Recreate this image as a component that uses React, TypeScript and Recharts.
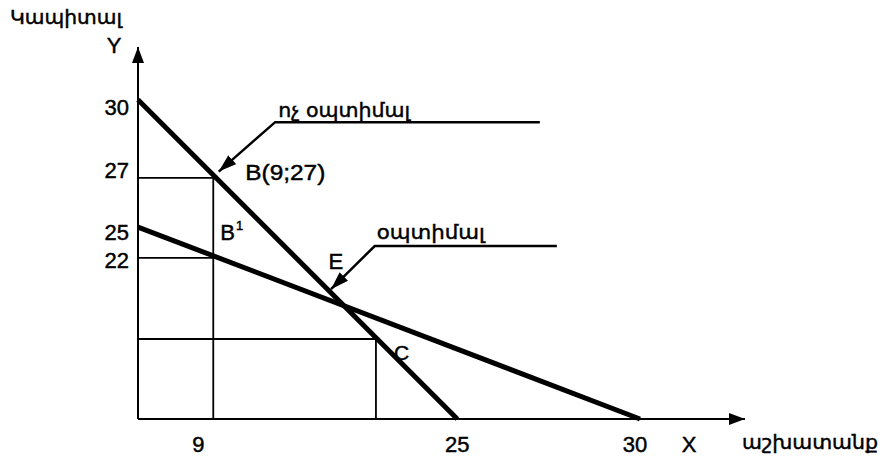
import React from "react";
import { LineChart, Line, XAxis, YAxis, ReferenceDot } from "recharts";

// schematic positions (0–100 on each axis) of the printed ticks
const xTickPos = [12.4, 52.6, 82.7];
const xTickLabels = ["9", "25", "30"];
const yTickPos = [85.8, 64.8, 51.6, 43.3];
const yTickLabels = ["30", "27", "25", "22"];

const [X9, X25, X30] = xTickPos;
const [Y30, Y27, Y25, Y22] = yTickPos;

// the two straight lines
const steepLine = [{ x: 0, y: Y30 }, { x: X25, y: 0 }];
const flatLine = [{ x: 0, y: Y25 }, { x: X30, y: 0 }];

// marked points
const pointB = { x: X9, y: Y27 };
const pointB1 = { x: X9, y: Y22 };
const pointE = { x: 34.0, y: 30.4 };
const pointC = { x: 39.2, y: 21.5 };

// thin guide lines
const guideB = [{ x: 0, y: Y27 }, pointB, { x: X9, y: 0 }];
const guideB1 = [{ x: 0, y: Y22 }, pointB1];
const guideC = [{ x: 0, y: pointC.y }, pointC, { x: pointC.x, y: 0 }];

// leader lines with arrows
const leaderNonOpt = [{ x: 66.2, y: 79.8 }, { x: 22.6, y: 79.8 }, { x: 13.3, y: 66.5 }];
const leaderOpt = [{ x: 69.0, y: 46.5 }, { x: 39.0, y: 46.5 }, { x: 31.8, y: 34.9 }];

const FONT = "Arial, 'Liberation Sans', 'DejaVu Sans', sans-serif";
const ARM = "'DejaVu Sans', sans-serif";
const BOLDEN = { stroke: "#000", strokeWidth: 0.45 };

const yNudge: Record<string, number> = { "30": 15, "27": 0, "25": 13, "22": 10 };
const xNudge: Record<string, number> = { "9": -15, "25": 0, "30": -5 };

function YTick(props: any) {
  const { x, y, payload } = props;
  const label = yTickLabels[yTickPos.indexOf(payload.value)];
  return (
    <text x={x - 1} y={y + yNudge[label]} textAnchor="end" fontSize={22} fontFamily={FONT} fill="#000" {...BOLDEN}>
      {label}
    </text>
  );
}

function XTick(props: any) {
  const { x, payload } = props;
  const label = xTickLabels[xTickPos.indexOf(payload.value)];
  return (
    <text x={x + xNudge[label]} y={452} textAnchor="middle" fontSize={22} fontFamily={FONT} fill="#000" {...BOLDEN}>
      {label}
    </text>
  );
}

function Ann(props: any) {
  const { viewBox, text, dx, dy, size = 22, width, arm, sup } = props;
  return (
    <text
      x={viewBox.x + dx}
      y={viewBox.y + dy}
      fontSize={size}
      fontFamily={arm ? ARM : FONT}
      fill="#000"
      {...BOLDEN}
      textLength={width}
      lengthAdjust={width ? "spacingAndGlyphs" : undefined}
    >
      {text}
      {sup ? (
        <tspan dx={1} dy={-10} fontSize={13}>
          {sup}
        </tspan>
      ) : null}
    </text>
  );
}

export default function App() {
  const thick = { stroke: "#000", strokeWidth: 5, dot: false, isAnimationActive: false, type: "linear" as const };
  const thin = { stroke: "#000", strokeWidth: 1.8, dot: false, isAnimationActive: false, type: "linear" as const };
  const lead = { stroke: "#000", strokeWidth: 2.5, dot: false, isAnimationActive: false, type: "linear" as const };

  return (
    <div style={{ position: "absolute", left: 0, top: 0, background: "#fff" }}>
      <LineChart width={880} height={456} margin={{ top: 47, right: 135, bottom: 36, left: 137 }}>
        <defs>
          <marker id="arrowHead" viewBox="0 0 18 12" refX="18" refY="6" markerWidth="18" markerHeight="12" markerUnits="userSpaceOnUse" orient="auto">
            <path d="M0,0 L18,6 L0,12 z" fill="#000" />
          </marker>
          <marker id="axisArrow" viewBox="0 0 16 12" refX="16" refY="6" markerWidth="16" markerHeight="12" markerUnits="userSpaceOnUse" orient="auto-start-reverse">
            <path d="M0,0 L16,6 L0,12 z" fill="#000" />
          </marker>
        </defs>
        <XAxis
          type="number"
          dataKey="x"
          domain={[0, 100]}
          ticks={xTickPos}
          height={1}
          tickLine={false}
          tick={<XTick />}
          axisLine={{ stroke: "#000", strokeWidth: 2, markerEnd: "url(#axisArrow)" }}
          label={{
            content: (p: any) => (
              <g>
                <text x={p.viewBox.x + p.viewBox.width - 56} y={452} textAnchor="middle" fontSize={22} fontFamily={FONT} {...BOLDEN}>X</text>
                <text x={p.viewBox.x + p.viewBox.width - 3} y={449} fontSize={20} fontFamily={ARM} textLength={136} lengthAdjust="spacingAndGlyphs" {...BOLDEN}>աշխատանք</text>
              </g>
            ),
          }}
        />
        <YAxis
          type="number"
          dataKey="y"
          domain={[0, 100]}
          ticks={yTickPos}
          width={1}
          tickLine={false}
          tick={<YTick />}
          axisLine={{ stroke: "#000", strokeWidth: 2, markerStart: "url(#axisArrow)" }}
          label={{
            content: (p: any) => (
              <g>
                <text x={p.viewBox.x + p.viewBox.width - 24} y={p.viewBox.y + 6} textAnchor="middle" fontSize={22} fontFamily={FONT} {...BOLDEN}>Y</text>
                <text x={10} y={24} fontSize={20} fontFamily={ARM} textLength={112} lengthAdjust="spacingAndGlyphs" {...BOLDEN}>Կապիտալ</text>
              </g>
            ),
          }}
        />
        <Line data={guideB} dataKey="y" {...thin} />
        <Line data={guideB1} dataKey="y" {...thin} />
        <Line data={guideC} dataKey="y" {...thin} />
        <Line data={steepLine} dataKey="y" {...thick} />
        <Line data={flatLine} dataKey="y" {...thick} />
        <Line data={leaderNonOpt} dataKey="y" {...lead} markerEnd="url(#arrowHead)" />
        <Line data={leaderOpt} dataKey="y" {...lead} markerEnd="url(#arrowHead)" />

        <ReferenceDot x={leaderNonOpt[1].x} y={leaderNonOpt[1].y} r={0} ifOverflow="visible" fill="none" stroke="none"
          label={<Ann text="ոչ օպտիմալ" dx={3} dy={-5} size={20} width={132} arm />} />
        <ReferenceDot x={pointB.x} y={pointB.y} r={0} ifOverflow="visible" fill="none" stroke="none"
          label={<Ann text="B(9;27)" dx={32} dy={2} width={80} />} />
        <ReferenceDot x={pointB1.x} y={pointB1.y} r={0} ifOverflow="visible" fill="none" stroke="none"
          label={<Ann text="B" sup="1" dx={7} dy={-18} />} />
        <ReferenceDot x={pointE.x} y={pointE.y} r={0} ifOverflow="visible" fill="none" stroke="none"
          label={<Ann text="E" dx={-16} dy={-37} />} />
        <ReferenceDot x={leaderOpt[1].x} y={leaderOpt[1].y} r={0} ifOverflow="visible" fill="none" stroke="none"
          label={<Ann text="օպտիմալ" dx={2} dy={-7} size={20} width={108} arm />} />
        <ReferenceDot x={pointC.x} y={pointC.y} r={0} ifOverflow="visible" fill="none" stroke="none"
          label={<Ann text="C" dx={18} dy={21} size={21} />} />
      </LineChart>
    </div>
  );
}
